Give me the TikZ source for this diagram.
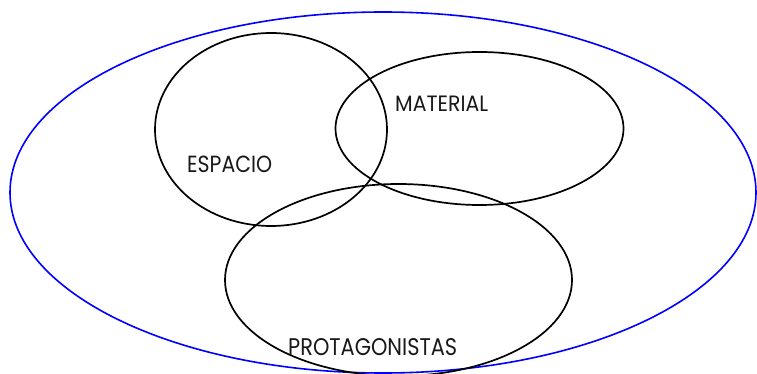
\documentclass[tikz,border=0pt]{standalone}
\usepackage{fontspec}
\setmainfont{Poppins}
\usetikzlibrary{shapes.geometric}
\tikzset{
  setring/.style={draw=black, line width=1.7pt, ellipse, inner sep=0pt},
  outerring/.style={draw=blue, line width=1.6pt, ellipse, inner sep=0pt},
  lbl/.style={anchor=base west, inner sep=0pt, text=black!90}
}
\begin{document}
\begin{tikzpicture}[x=1pt,y=-1pt]
\useasboundingbox (0,0) rectangle (757,374);
\clip (0,0) rectangle (757,374);
\fill[white] (0,0) rectangle (757,374);
\node[outerring, minimum width=746pt, minimum height=361pt] (todo) at (383,192.5) {};
\node[setring, minimum width=232pt, minimum height=193pt] (espacio) at (271,129.5) {};
\node[setring, minimum width=288pt, minimum height=153pt] (material) at (479.5,128.5) {};
\node[setring, minimum width=347pt, minimum height=192pt] (protagonistas) at (398.5,280) {};
\node[lbl] (tesp) at (187,173) {\resizebox{85pt}{16.5pt}{ESPACIO}};
\node[lbl] (tmat) at (395,112) {\resizebox{93pt}{15.5pt}{MATERIAL}};
\node[lbl] (tpro) at (288,355) {\resizebox{169pt}{17pt}{PROTAGONISTAS}};
\end{tikzpicture}
\end{document}
